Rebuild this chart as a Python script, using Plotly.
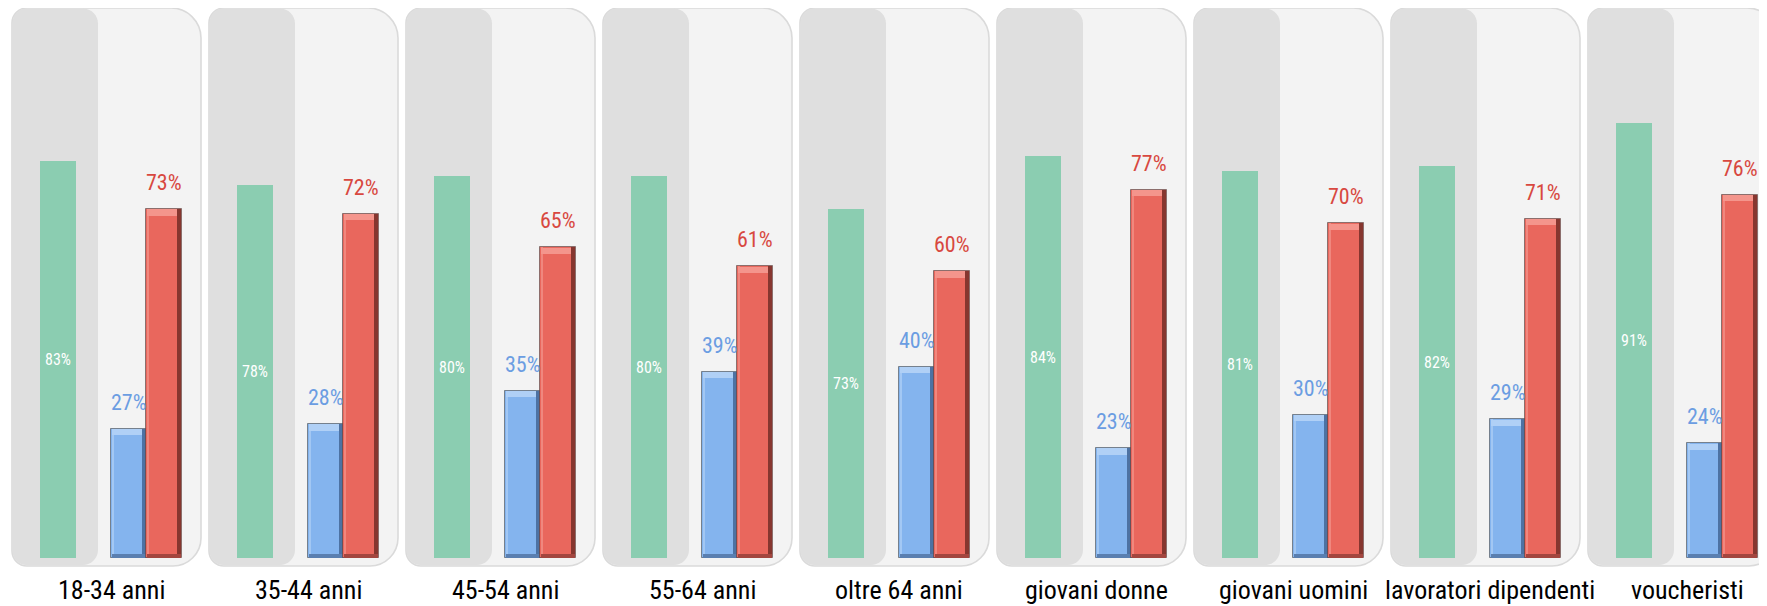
import plotly.graph_objects as go

categories = ["18-34 anni", "35-44 anni", "45-54 anni", "55-64 anni", "oltre 64 anni",
              "giovani donne", "giovani uomini", "lavoratori dipendenti", "voucheristi"]
green_vals = [83, 78, 80, 80, 73, 84, 81, 82, 91]
blue_vals = [27, 28, 35, 39, 40, 23, 30, 29, 24]
red_vals = [73, 72, 65, 61, 60, 77, 70, 71, 76]

PAGE_OFF = 8  # default body margin of the html page
W, H = 1767 - PAGE_OFF, 606 - PAGE_OFF
PITCH = 197.0
X0 = 12.0 - PAGE_OFF
BASE = 558.0 - PAGE_OFF
PXPER = 4.78
FONT = "Roboto Condensed, Open Sans Condensed, DejaVu Sans Condensed, Liberation Sans Narrow, Roboto, sans-serif"

xmin = -X0 / PITCH
xmax = xmin + W / PITCH
ymax = BASE / PXPER

BW = 0.182
OFF_G, OFF_B, OFF_R = 0.142, 0.503, 0.680

idx = list(range(len(categories)))

def fx(p):
    return (p - PAGE_OFF) / W

def fy(p):
    return 1 - (p - PAGE_OFF) / H

def rrect(x0, y0, x1, y1, rtl, rtr, rbr, rbl):
    k = 0.55
    s = f"M {fx(x0 + rtl)},{fy(y0)} L {fx(x1 - rtr)},{fy(y0)} "
    s += f"C {fx(x1 - rtr + k * rtr)},{fy(y0)} {fx(x1)},{fy(y0 + rtr - k * rtr)} {fx(x1)},{fy(y0 + rtr)} "
    s += f"L {fx(x1)},{fy(y1 - rbr)} "
    s += f"C {fx(x1)},{fy(y1 - rbr + k * rbr)} {fx(x1 - rbr + k * rbr)},{fy(y1)} {fx(x1 - rbr)},{fy(y1)} "
    s += f"L {fx(x0 + rbl)},{fy(y1)} "
    s += f"C {fx(x0 + rbl - k * rbl)},{fy(y1)} {fx(x0)},{fy(y1 - rbl + k * rbl)} {fx(x0)},{fy(y1 - rbl)} "
    s += f"L {fx(x0)},{fy(y0 + rtl)} "
    s += f"C {fx(x0)},{fy(y0 + rtl - k * rtl)} {fx(x0 + rtl - k * rtl)},{fy(y0)} {fx(x0 + rtl)},{fy(y0)} Z"
    return s

shapes = []
for i in idx:
    left = 12 + PITCH * i  # page pixels
    shapes.append(dict(type="path", xref="paper", yref="paper", layer="below",
                       path=rrect(left, 8, left + 189, 566, 15, 30, 28, 15),
                       fillcolor="#f3f3f3", line=dict(color="#dadada", width=1.6)))
    shapes.append(dict(type="path", xref="paper", yref="paper", layer="below",
                       path=rrect(left + 0.5, 8.5, left + 86, 565, 14, 15, 15, 14),
                       fillcolor="#dfdfdf", line=dict(width=0)))

fig = go.Figure()

fig.add_trace(go.Bar(x=idx, y=green_vals, offset=OFF_G, width=BW,
                     marker=dict(color="#8bcdb1", line=dict(width=0)),
                     text=[f"{v}%" for v in green_vals], textposition="inside",
                     insidetextanchor="middle", textangle=0,
                     textfont=dict(color="white", size=16, family=FONT),
                     hoverinfo="skip", showlegend=False))

def bevel_bar(vals, off, main, light, dark, bottom):
    fig.add_trace(go.Bar(x=idx, y=vals, offset=off, width=BW,
                         marker=dict(color=main, line=dict(color="rgba(60,60,60,0.55)", width=1)),
                         hoverinfo="skip", showlegend=False))
    fig.add_trace(go.Bar(x=idx, y=vals, offset=off + 0.004, width=0.012,
                         marker=dict(color=light, line=dict(width=0)), opacity=0.7,
                         hoverinfo="skip", showlegend=False))
    fig.add_trace(go.Bar(x=idx, y=vals, offset=off + BW - 0.024, width=0.021,
                         marker=dict(color=dark, line=dict(width=0)),
                         hoverinfo="skip", showlegend=False))
    fig.add_trace(go.Bar(x=idx, y=[0.9] * len(vals), base=[0] * len(vals),
                         offset=off + 0.004, width=BW - 0.008,
                         marker=dict(color=bottom, line=dict(width=0)),
                         hoverinfo="skip", showlegend=False))
    fig.add_trace(go.Bar(x=idx, y=[1.3] * len(vals), base=[v - 1.35 for v in vals],
                         offset=off + 0.006, width=BW - 0.03,
                         marker=dict(color=light, line=dict(width=0)),
                         hoverinfo="skip", showlegend=False))

bevel_bar(blue_vals, OFF_B, "#84b4ee", "#b0d0f6", "#4d72a3", "#5a7fb0")
bevel_bar(red_vals, OFF_R, "#e9675d", "#f4958c", "#86362f", "#a3463f")

annotations = []
for i in idx:
    annotations.append(dict(x=i + OFF_B + BW / 2, y=blue_vals[i], xref="x", yref="y",
                            text=f"{blue_vals[i]}%", showarrow=False, yanchor="bottom",
                            yshift=12, font=dict(color="#6b9de2", size=22, family=FONT)))
    annotations.append(dict(x=i + OFF_R + BW / 2, y=red_vals[i], xref="x", yref="y",
                            text=f"{red_vals[i]}%", showarrow=False, yanchor="bottom",
                            yshift=12, font=dict(color="#d84840", size=22, family=FONT)))
    annotations.append(dict(x=fx(12 + PITCH * i + 99), y=fy(590), xref="paper", yref="paper",
                            text=categories[i], showarrow=False, yanchor="middle",
                            xanchor="center",
                            font=dict(color="black", size=26, family=FONT)))

fig.update_layout(
    width=W, height=H,
    margin=dict(l=0, r=0, t=0, b=0),
    paper_bgcolor="white", plot_bgcolor="rgba(0,0,0,0)",
    barmode="overlay", bargap=0,
    shapes=shapes, annotations=annotations,
    xaxis=dict(range=[xmin, xmax], domain=[0, 1], showgrid=False, zeroline=False,
               showticklabels=False, showline=False, fixedrange=True),
    yaxis=dict(range=[0, ymax], domain=[(H - BASE) / H, 1], showgrid=False,
               zeroline=False, showticklabels=False, showline=False, fixedrange=True),
)

fig.write_html("out.html", config={"displayModeBar": False})
